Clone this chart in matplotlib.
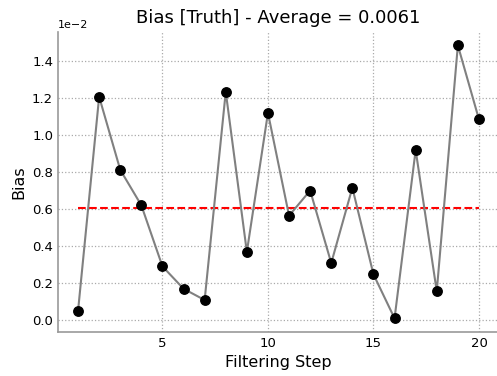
import matplotlib
matplotlib.use("Agg")
import matplotlib.pyplot as plt
import numpy as np

steps = list(range(1, 21))
bias_e2 = [0.049, 1.207, 0.812, 0.620, 0.290, 0.169, 0.108, 1.234, 0.368, 1.120,
           0.564, 0.700, 0.308, 0.715, 0.247, 0.009, 0.919, 0.155, 1.485, 1.085]
bias = np.array(bias_e2) * 1e-2
avg = bias.mean()

W, H = 497, 376
fig = plt.figure(figsize=(W / 100, H / 100), dpi=100)
ax = fig.add_axes([58 / W, (H - 332) / H, (499 - 58) / W, (332 - 31.7) / H])

ax.plot(steps, bias, color="gray", lw=1.5, marker="o", markersize=6.8,
        markerfacecolor="black", markeredgecolor="black", zorder=3)
ax.plot([steps[0], steps[-1]], [avg, avg], color="red", ls="--", lw=1.5, zorder=2)

ax.set_title(f"Bias [Truth] - Average = {avg:.4f}", fontsize=13)
ax.set_xlabel("Filtering Step", fontsize=11.5)
ax.set_ylabel("Bias", fontsize=11.5)
ax.ticklabel_format(axis="y", style="sci", scilimits=(0, 0))
ax.set_xticks([5, 10, 15, 20])
ax.set_yticks(np.arange(0, 1.41, 0.2) * 1e-2)
ax.tick_params(length=0, labelsize=9.5)
ax.yaxis.get_offset_text().set_fontsize(8)
ax.grid(True, color="#aaaaaa", ls=":", lw=0.9)
ax.set_axisbelow(True)
for s in ["top", "right"]:
    ax.spines[s].set_visible(False)
for s in ["left", "bottom"]:
    ax.spines[s].set_color("#999999")
    ax.spines[s].set_linewidth(1.2)

fig.savefig("out.png", dpi=100)
